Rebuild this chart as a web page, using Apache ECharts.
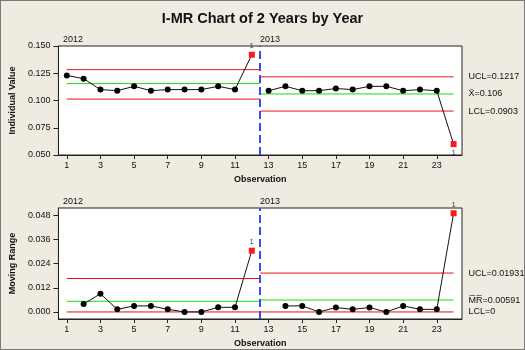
<!DOCTYPE html>
<html>
<head>
<meta charset="utf-8">
<script src="https://cdn.jsdelivr.net/npm/echarts@6/dist/echarts.min.js"></script>
<style>
  html, body { margin: 0; padding: 0; background: #efebe1; }
  #wrap { width: 525px; height: 350px; box-sizing: border-box; border: 1px solid #7a7a7a; position: relative; overflow: hidden; }
  #chart { position: absolute; left: -1px; top: -1px; width: 525px; height: 350px; }
</style>
</head>
<body>
<div id="wrap"><div id="chart"></div></div>
<script>
// ---- data ----
const observations = [1,2,3,4,5,6,7,8,9,10,11,12,13,14,15,16,17,18,19,20,21,22,23,24];
const stageOfObs  = [0,0,0,0,0,0,0,0,0,0,0,0,1,1,1,1,1,1,1,1,1,1,1,1];
const individualValues = [0.123,0.120,0.110,0.109,0.113,0.109,0.110,0.110,0.110,0.113,0.110,0.142,
                          0.109,0.113,0.109,0.109,0.111,0.110,0.113,0.113,0.109,0.110,0.109,0.060];
const movingRanges = [null,0.004,0.009,0.0013,0.003,0.003,0.0013,0,0,0.0023,0.0023,0.0304,
                      null,0.003,0.003,0,0.0022,0.0013,0.0022,0,0.003,0.0013,0.0013,0.049];
const flaggedObs = [12, 24];
const stageNames = ['2012', '2013'];
const stageStart = [1, 12.5];
const stageEnd   = [12.5, 24];
const stageBreak = 12.5;
const iUCL = [0.1283, 0.1217];
const iCL  = [0.1155, 0.106];
const iLCL = [0.1013, 0.0903];
const mrUCL = [0.0166, 0.01931];
const mrCL  = [0.0053, 0.00591];
const mrLCL = [0, 0];
const iLabels  = ['UCL=0.1217', 'X\u0304=0.106', 'LCL=0.0903'];
const mrLabels = ['UCL=0.01931', 'M\u0305R\u0305=0.00591', 'LCL=0'];
const xTicks  = [1,3,5,7,9,11,13,15,17,19,21,23];
const iTicks  = [0.050,0.075,0.100,0.125,0.150];
const mrTicks = [0.000,0.012,0.024,0.036,0.048];

const FONT = 'Liberation Sans';
const chart = echarts.init(document.getElementById('chart'));

function dataSeries(values, gridIdx, labelPos) {
  const out = [];
  for (let s = 0; s < stageNames.length; s++) {
    const data = [];
    observations.forEach((o, i) => {
      if (stageOfObs[i] !== s || values[i] === null) return;
      const flagged = flaggedObs.includes(o);
      const item = { value: [o, values[i]] };
      if (flagged) {
        item.symbol = 'rect';
        item.symbolSize = 6;
        item.itemStyle = { color: '#ff1a1a' };
        item.label = { show: true, formatter: '1', position: labelPos[o], distance: 2,
                       fontSize: 7, color: '#333', fontFamily: FONT };
      }
      data.push(item);
    });
    out.push({
      type: 'line', xAxisIndex: gridIdx, yAxisIndex: gridIdx, data: data,
      symbol: 'circle', symbolSize: 6, z: 5,
      itemStyle: { color: '#000' }, lineStyle: { color: '#111', width: 1 },
      silent: true, animation: false
    });
  }
  return out;
}

function limitSeries(arr, color, gridIdx, labels) {
  return stageNames.map((n, s) => {
    const ser = {
      type: 'line', xAxisIndex: gridIdx, yAxisIndex: gridIdx, symbol: 'none',
      data: [[stageStart[s], arr[s]], [stageEnd[s], arr[s]]],
      lineStyle: { color: color, width: 1 }, z: 3, silent: true, animation: false
    };
    if (labels && s === stageNames.length - 1) {
      ser.endLabel = { show: true, formatter: labels, distance: 15, fontSize: 9,
                       color: '#111', fontFamily: FONT };
    }
    return ser;
  });
}

const axisText = { fontSize: 9, color: '#111', fontFamily: FONT };
function xAxis(gridIdx) {
  return {
    type: 'value', gridIndex: gridIdx, min: 0.5, max: 24.5,
    name: 'Observation', nameLocation: 'middle', nameGap: 20,
    nameTextStyle: { fontSize: 9, fontWeight: 'bold', color: '#111', fontFamily: FONT },
    axisLine: { onZero: false, lineStyle: { color: '#222' } },
    axisTick: { length: 4, customValues: xTicks, lineStyle: { color: '#222' } },
    axisLabel: Object.assign({ customValues: xTicks, margin: 6 }, axisText),
    splitLine: { show: false }
  };
}
function yAxis(gridIdx, name, min, max, ticks) {
  return {
    type: 'value', gridIndex: gridIdx, min: min, max: max,
    name: name, nameLocation: 'middle', nameGap: 35, nameRotate: 90,
    nameTextStyle: { fontSize: 9, fontWeight: 'bold', color: '#111', fontFamily: FONT },
    axisLine: { lineStyle: { color: '#222' } },
    axisTick: { length: 5, customValues: ticks, lineStyle: { color: '#222' } },
    axisLabel: Object.assign({ customValues: ticks, margin: 8,
                               formatter: v => v.toFixed(3) }, axisText),
    splitLine: { show: false }
  };
}

const breakLine = (gridIdx) => ({
  type: 'line', xAxisIndex: gridIdx, yAxisIndex: gridIdx, data: [], silent: true, animation: false,
  markLine: {
    silent: true, symbol: 'none', label: { show: false }, animation: false,
    lineStyle: { color: '#3a4cf0', width: 2, type: [8, 4] },
    data: [{ xAxis: stageBreak }]
  }
});

const series = [].concat(
  limitSeries(iUCL, '#f01010', 0, iLabels[0]),
  limitSeries(iCL, '#10e010', 0, iLabels[1]),
  limitSeries(iLCL, '#f01010', 0, iLabels[2]),
  dataSeries(individualValues, 0, { 12: 'top', 24: 'bottom' }),
  [breakLine(0)],
  limitSeries(mrUCL, '#f01010', 1, mrLabels[0]),
  limitSeries(mrCL, '#10e010', 1, mrLabels[1]),
  limitSeries(mrLCL, '#f01010', 1, mrLabels[2]),
  dataSeries(movingRanges, 1, { 12: 'top', 24: 'top' }),
  [breakLine(1)]
);

const yearText = (left, top, txt) => ({
  type: 'text', left: left, top: top,
  style: { text: txt, fontSize: 9, fontFamily: FONT, fill: '#111' }
});

chart.setOption({
  backgroundColor: 'transparent',
  animation: false,
  title: {
    text: 'I-MR Chart of 2 Years by Year', left: 'center', top: 6,
    textStyle: { fontSize: 14.5, fontWeight: 'bold', color: '#111', fontFamily: FONT }
  },
  grid: [
    { left: 49, top: 46, width: 413, height: 109, show: true, backgroundColor: '#fff',
      borderColor: '#222', borderWidth: 1 },
    { left: 49, top: 208, width: 413, height: 111, show: true, backgroundColor: '#fff',
      borderColor: '#222', borderWidth: 1 }
  ],
  xAxis: [xAxis(0), xAxis(1)],
  yAxis: [yAxis(0, 'Individual Value', 0.05, 0.15, iTicks),
          yAxis(1, 'Moving Range', -0.0035, 0.0516, mrTicks)],
  graphic: [
    yearText(63, 35, stageNames[0]), yearText(260, 35, stageNames[1]),
    yearText(63, 197, stageNames[0]), yearText(260, 197, stageNames[1])
  ],
  series: series
});
</script>
</body>
</html>
